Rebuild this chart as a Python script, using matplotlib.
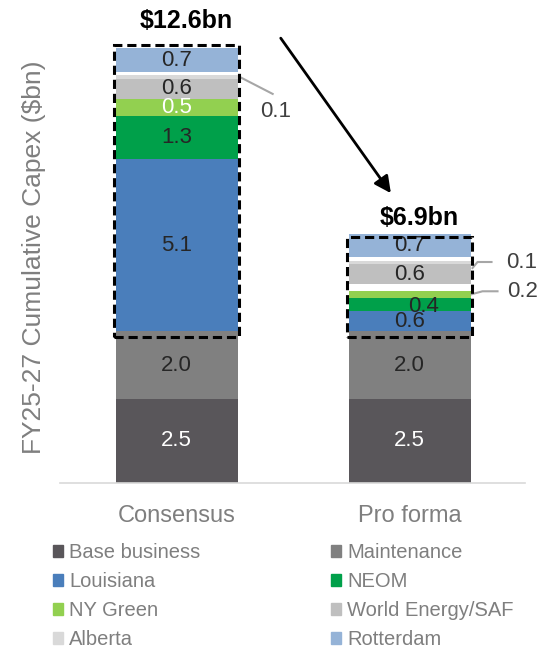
import numpy as np
import matplotlib.pyplot as plt
from matplotlib.patches import Rectangle, Patch

plt.rcParams['font.family'] = ['Liberation Sans', 'DejaVu Sans']

# data
categories = ['Consensus', 'Pro forma']
series = ['Base business', 'Maintenance', 'Louisiana', 'NEOM', 'NY Green',
          'World Energy/SAF', 'Alberta', 'Rotterdam']
consensus = [2.5, 2.0, 5.1, 1.3, 0.5, 0.6, 0.1, 0.7]
pro_forma = [2.5, 2.0, 0.6, 0.4, 0.2, 0.6, 0.1, 0.7]
totals_text = ['$12.6bn', '$6.9bn']

colors = ['#59565a', '#808080', '#4a7ebb', '#00a04a', '#92d050',
          '#bfbfbf', '#d9d9d9', '#95b3d7']
label_colors = ['white', '#262626', '#262626', '#262626', 'white',
                '#262626', '#262626', '#262626']
grey_txt = '#7f7f7f'

values = np.array([consensus, pro_forma])   # shape (2, 8)
x = np.arange(len(categories))
bar_w = 0.524

fig = plt.figure(figsize=(5.43, 6.52), dpi=100)
ax = fig.add_axes([60 / 543, (652 - 483) / 652, 465 / 543, 483 / 652])
ax.set_xlim(-0.501, 1.496)
ax.set_ylim(0, 483 / 33.7)

bottom = np.zeros(len(categories))
for j, name in enumerate(series):
    ax.bar(x, values[:, j], bar_w, bottom=bottom, color=colors[j],
           linewidth=0, label=name, zorder=2)
    for i in range(len(categories)):
        v = values[i, j]
        if v < 0.3:
            bottom[i] += v
            continue
        dx, dy = 0, 0
        if i == 1 and name == 'NEOM':
            dx, dy = 0.06, -0.05
        ax.text(x[i] + dx, bottom[i] + v / 2 + dy, f'{v:.1f}', ha='center', va='center',
                fontsize=16, color=label_colors[j], zorder=4)
    bottom += values[:, j]

totals = values.sum(axis=1)


def leader(xa, ya, pts):
    # polyline given in pixel offsets from an anchor in data coords
    d = ax.transData.transform((xa, ya))
    inv = ax.transData.inverted()
    p = np.array([inv.transform((d[0] + px, d[1] + py)) for px, py in pts])
    ax.plot(p[:, 0], p[:, 1], color='#a6a6a6', lw=1.5, clip_on=False, zorder=3)


# small segments labelled outside the bars
cum = np.cumsum(values, axis=1)
small = [(0, 6, [(2, 0), (35, -17)], (38, -35)),
         (1, 6, [(2, 1), (7, 7), (21, 7)], (51, 7)),
         (1, 4, [(1, 0), (12, 3), (27, 3)], (52, 3))]
for i, j, path, toff in small:
    yc = cum[i, j] - values[i, j] / 2
    xe = x[i] + bar_w / 2
    leader(xe, yc, path)
    ax.annotate(f'{values[i, j]:.1f}', (xe, yc), xytext=toff, textcoords='offset pixels',
                ha='center', va='center', fontsize=16, color='#404040')

# dashed boxes around the project capex
base_top = cum[:, 1]
for i in range(len(categories)):
    lo = base_top[i] - 0.17
    hi = totals[i] + 0.2
    ax.add_patch(Rectangle((x[i] - bar_w / 2 - 0.006, lo), bar_w + 0.012, hi - lo,
                           fill=False, edgecolor='black', lw=2.2,
                           linestyle=(0, (3, 1.6)), clip_on=False, zorder=5))

for i, t in enumerate(totals_text):
    ax.text(x[i] + 0.04, totals[i] + [0.9, 0.75][i], t, ha='center', va='center',
            fontsize=18, fontweight='bold', color='black')

ax.annotate('', xy=(0.92, 8.6), xytext=(0.447, 13.2),
            arrowprops=dict(arrowstyle='-|>', color='black', lw=2,
                            mutation_scale=25, shrinkA=0, shrinkB=0),
            annotation_clip=False)

for s in ['top', 'right', 'left']:
    ax.spines[s].set_visible(False)
ax.spines['bottom'].set_color('#d9d9d9')
ax.spines['bottom'].set_linewidth(1.2)
ax.set_yticks([])
ax.set_xticks(x)
ax.set_xticklabels(categories, fontsize=17, color=grey_txt)
ax.tick_params(axis='x', length=0, pad=15.5)
ax.set_ylabel('FY25-27 Cumulative Capex ($bn)', fontsize=19, color=grey_txt)
ax.yaxis.set_label_coords(-0.03, 0.468)

handles = [Patch(color=c) for c in colors]
order = list(range(0, 8, 2)) + list(range(1, 8, 2))
fig.legend([handles[k] for k in order], [series[k] for k in order], ncol=2,
           loc='upper left', bbox_to_anchor=(53 / 543, 1 - 543 / 652),
           frameon=False, fontsize=14.5, labelcolor=grey_txt,
           handlelength=0.5, handleheight=0.5, handletextpad=0.3,
           columnspacing=6.5, labelspacing=0.5, borderpad=0, borderaxespad=0)

fig.savefig('out.png', dpi=100)
